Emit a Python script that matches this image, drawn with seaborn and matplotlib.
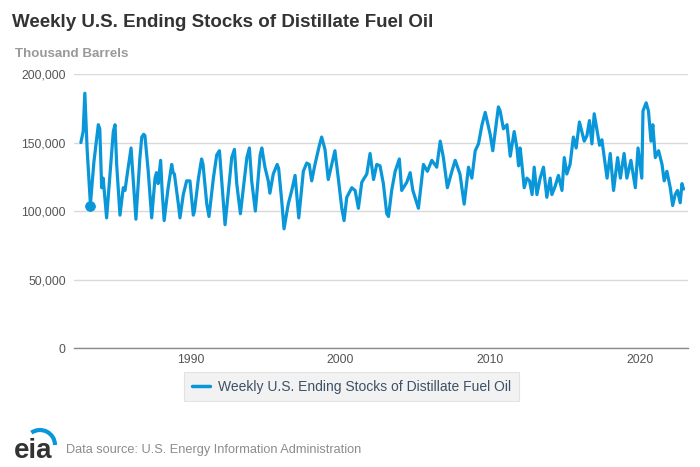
import matplotlib
matplotlib.use("Agg")
import matplotlib.pyplot as plt
import matplotlib.dates as mdates
from matplotlib.patches import Arc
from matplotlib.ticker import FuncFormatter, MultipleLocator
import seaborn as sns
import pandas as pd

# Weekly U.S. ending stocks of distillate fuel oil, thousand barrels
stock_dates = [
    "1982-08-20", "1982-10-15", "1982-11-25", "1983-01-20", "1983-04-10", "1983-07-05",
    "1983-10-20", "1983-11-25", "1984-01-10", "1984-02-15", "1984-05-10", "1984-08-01",
    "1984-10-20", "1984-12-01", "1985-01-10", "1985-04-01", "1985-06-20", "1985-08-01",
    "1985-10-20", "1985-12-28", "1986-02-20", "1986-04-25", "1986-08-01", "1986-09-15",
    "1986-11-01", "1986-12-01", "1987-02-20", "1987-05-15", "1987-08-05", "1987-09-10",
    "1987-10-20", "1987-12-20", "1988-01-25", "1988-03-15", "1988-06-20", "1988-09-15",
    "1988-10-20", "1988-11-20", "1989-02-25", "1989-04-05", "1989-06-25", "1989-09-15",
    "1989-12-05", "1990-01-05", "1990-02-25", "1990-03-25", "1990-06-30", "1990-09-15",
    "1990-10-20", "1991-01-20", "1991-03-15", "1991-06-30", "1991-09-20", "1991-11-25",
    "1992-01-20", "1992-04-10", "1992-07-01", "1992-09-20", "1992-11-25", "1993-01-20",
    "1993-04-20", "1993-07-15", "1993-09-25", "1993-11-25", "1994-01-20", "1994-04-20",
    "1994-07-01", "1994-08-15", "1994-09-25", "1994-12-10", "1995-03-01", "1995-04-10",
    "1995-07-01", "1995-10-05", "1995-11-10", "1996-01-25", "1996-03-20", "1996-07-01",
    "1996-09-25", "1996-12-15", "1997-03-15", "1997-07-05", "1997-09-25", "1997-11-25",
    "1998-01-25", "1998-04-15", "1998-08-01", "1998-09-25", "1998-12-15", "1999-03-05",
    "1999-05-30", "1999-08-15", "1999-11-05", "2000-01-30", "2000-03-25", "2000-05-30",
    "2000-09-30", "2000-12-20", "2001-03-10", "2001-06-01", "2001-10-01", "2001-12-20",
    "2002-03-15", "2002-06-01", "2002-08-20", "2002-11-10", "2003-02-01", "2003-03-15",
    "2003-06-01", "2003-08-25", "2003-12-05", "2004-02-01", "2004-06-05", "2004-08-25",
    "2004-10-30", "2005-03-15", "2005-07-15", "2005-10-20", "2006-02-05", "2006-06-05",
    "2006-08-30", "2006-11-15", "2007-02-20", "2007-06-10", "2007-08-30", "2007-12-25",
    "2008-04-05", "2008-07-20", "2008-10-10", "2008-12-31", "2009-03-20", "2009-06-15",
    "2009-09-01", "2009-12-31", "2010-03-05", "2010-07-20", "2010-09-01", "2010-11-20",
    "2011-02-15", "2011-05-05", "2011-08-10", "2011-10-15", "2011-11-25", "2012-01-01",
    "2012-02-05", "2012-04-10", "2012-06-15", "2012-08-20", "2012-10-20", "2012-12-10",
    "2013-02-15", "2013-05-05", "2013-07-25", "2013-10-15", "2014-01-05", "2014-02-15",
    "2014-05-05", "2014-07-25", "2014-10-20", "2014-12-15", "2015-02-15", "2015-05-05",
    "2015-07-25", "2015-10-01", "2015-12-20", "2016-04-15", "2016-06-20", "2016-08-20",
    "2016-10-20", "2016-12-15", "2017-02-20", "2017-04-25", "2017-06-20", "2017-09-10",
    "2017-10-25", "2018-01-10", "2018-04-01", "2018-07-10", "2018-09-15", "2018-12-15",
    "2019-02-20", "2019-05-30", "2019-09-15", "2019-11-20", "2020-02-20", "2020-03-20",
    "2020-06-05", "2020-08-01", "2020-10-01", "2020-11-15", "2021-01-15", "2021-04-05",
    "2021-06-28", "2021-08-20", "2021-10-25", "2022-01-15", "2022-03-15", "2022-05-15",
    "2022-07-10", "2022-09-15", "2022-10-28", "2022-12-05",
]
stock_values = [
    150000, 158000, 186000, 145000, 105000, 136000,
    163000, 160000, 117000, 124000, 95000, 127000,
    158000, 163000, 134000, 97000, 117000, 115000,
    132000, 146000, 122000, 94000, 139000, 154000,
    156000, 155000, 129000, 95000, 124000, 128000,
    120000, 137000, 115000, 93000, 117000, 134000,
    128000, 127000, 105000, 95000, 112000, 122000,
    122000, 112000, 97000, 100000, 124000, 138000,
    134000, 105000, 96000, 124000, 141000, 144000,
    122000, 90000, 115000, 139000, 145000, 120000,
    98000, 120000, 139000, 146000, 122000, 100000,
    125000, 141000, 146000, 132000, 122000, 113000,
    127000, 134000, 131000, 107000, 87000, 105000,
    115000, 126000, 95000, 129000, 135000, 134000,
    122000, 134000, 148000, 154000, 145000, 123000,
    134000, 144000, 124000, 102000, 93000, 110000,
    117000, 115000, 102000, 121000, 127000, 142000,
    123000, 134000, 133000, 120000, 98000, 96000,
    115000, 129000, 138000, 115000, 121000, 128000,
    115000, 102000, 134000, 129000, 137000, 132000,
    151000, 139000, 117000, 129000, 137000, 127000,
    105000, 132000, 124000, 144000, 149000, 163000,
    172000, 156000, 144000, 176000, 173000, 160000,
    163000, 140000, 158000, 146000, 133000, 146000,
    137000, 117000, 124000, 122000, 112000, 132000,
    112000, 124000, 132000, 110000, 124000, 112000,
    118000, 126000, 115000, 139000, 127000, 134000,
    154000, 146000, 165000, 151000, 155000, 166000,
    149000, 171000, 159000, 148000, 152000, 134000,
    124000, 142000, 115000, 139000, 124000, 142000,
    124000, 137000, 117000, 146000, 124000, 173000,
    179000, 173000, 151000, 163000, 139000, 144000,
    134000, 122000, 129000, 117000, 104000, 112000,
    115000, 106000, 120000, 116000,
]

# hovered point marker seen on the chart
highlight_date = ["1983-04-10"]
highlight_value = [104000]

series_name = "Weekly U.S. Ending Stocks of Distillate Fuel Oil"
line_color = "#0a97d9"

df = pd.DataFrame({"date": pd.to_datetime(stock_dates), "stocks": stock_values})
hl = pd.DataFrame({"date": pd.to_datetime(highlight_date), "stocks": highlight_value})

sns.set_style("white")
plt.rcParams["font.family"] = ["Liberation Sans", "DejaVu Sans"]

fig = plt.figure(figsize=(7, 4.67), dpi=100)
ax = fig.add_axes([0.1057, 0.2548, 0.8772, 0.5867])

sns.lineplot(data=df, x="date", y="stocks", ax=ax, color=line_color,
             linewidth=2.3, label=series_name)
sns.scatterplot(data=hl, x="date", y="stocks", ax=ax, color=line_color,
                s=50, edgecolor=line_color, legend=False, zorder=5)

ax.set_ylim(0, 200000)
ax.set_xlim(pd.Timestamp("1982-03-05"), pd.Timestamp("2023-03-25"))
ax.yaxis.set_major_locator(MultipleLocator(50000))
ax.yaxis.set_major_formatter(FuncFormatter(lambda v, p: f"{int(v):,}"))
ax.xaxis.set_major_locator(mdates.YearLocator(10))
ax.xaxis.set_major_formatter(mdates.DateFormatter("%Y"))
ax.set_xlabel("")
ax.set_ylabel("")

ax.grid(axis="y", color="#d9d9d9", linewidth=1)
ax.grid(axis="x", visible=False)
ax.set_axisbelow(True)
for side in ["top", "right", "left"]:
    ax.spines[side].set_visible(False)
ax.spines["bottom"].set_color("#8a8a8a")
ax.spines["bottom"].set_linewidth(1)
ax.tick_params(axis="y", length=0, pad=6, labelsize=8.8, labelcolor="#555555")
ax.tick_params(axis="x", length=4, width=1, color="#8a8a8a", pad=0.5,
               labelsize=8.8, labelcolor="#555555")

handles, labels = ax.get_legend_handles_labels()
leg = ax.legend(handles[:1], labels[:1], loc="center", bbox_to_anchor=(0.502, 0.172),
                bbox_transform=fig.transFigure, frameon=True, fancybox=False,
                facecolor="#efefef", edgecolor="#dddddd", fontsize=10,
                handlelength=1.3, handletextpad=0.6, borderpad=0.55,
                labelcolor="#3c5166")
leg.get_frame().set_linewidth(0.8)
leg.get_lines()[0].set_linewidth(2.5)

fig.text(0.0167, 0.943, "Weekly U.S. Ending Stocks of Distillate Fuel Oil",
         fontsize=13.5, fontweight="bold", color="#333333", va="baseline")
fig.text(0.021, 0.878, "Thousand Barrels", fontsize=9.6, fontweight="bold",
         color="#999999", va="baseline")

# footer: eia logo and source note
fig.text(0.02, 0.019, "eia", fontsize=20, fontweight="bold", color="#333333",
         va="baseline")
fig.add_artist(Arc((0.0571, 0.0471), 0.0429, 0.0642, theta1=0, theta2=115,
                   transform=fig.transFigure, color=line_color, linewidth=3))
fig.text(0.094, 0.030, "Data source: U.S. Energy Information Administration",
         fontsize=9.2, color="#8c8c8c", va="baseline")

fig.savefig("out.png", dpi=100)
